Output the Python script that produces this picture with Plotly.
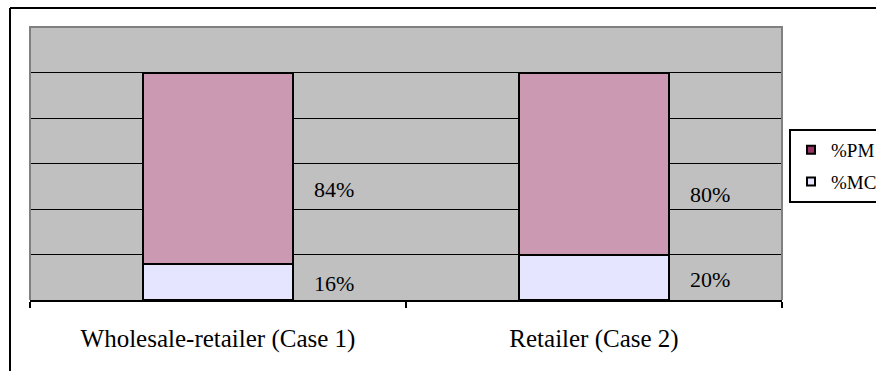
import plotly.graph_objects as go

categories = ["Wholesale-retailer (Case 1)", "Retailer (Case 2)"]
mc_values = [16, 20]
pm_values = [84, 80]
series_names = ["%PM", "%MC"]

pm_bar_color = "#CC99B3"
mc_bar_color = "#E5E5FF"
pm_legend_color = "#993366"
mc_legend_color = "#E5E5FF"
serif = "'Liberation Serif', 'Times New Roman', Times, serif"

xs = list(range(len(categories)))

fig = go.Figure()
fig.add_trace(go.Bar(x=xs, y=mc_values, width=0.4, marker=dict(color=mc_bar_color, line=dict(color="black", width=2)),
                     showlegend=False, name=series_names[1]))
fig.add_trace(go.Bar(x=xs, y=pm_values, width=0.4, marker=dict(color=pm_bar_color, line=dict(color="black", width=2)),
                     showlegend=False, name=series_names[0]))
# legend entries
fig.add_trace(go.Scatter(x=[None], y=[None], mode="markers", name=series_names[0], legendgroup="a",
                         marker=dict(symbol="square", size=8, color=pm_legend_color, line=dict(color="black", width=2))))
fig.add_trace(go.Scatter(x=[None], y=[None], mode="markers", name=series_names[1], legendgroup="b",
                         marker=dict(symbol="square", size=8, color=mc_legend_color, line=dict(color="black", width=2))))

annotations = []
for i, (mc, pm) in enumerate(zip(mc_values, pm_values)):
    annotations.append(dict(x=i, y=pm / 2, text=f"{pm}%", xref="x", yref="y", showarrow=False,
                            xshift=116, yshift=15, font=dict(family=serif, size=22, color="black")))
    annotations.append(dict(x=i, y=mc / 2, text=f"{mc}%", xref="x", yref="y", showarrow=False,
                            xshift=116, yshift=-2, font=dict(family=serif, size=22, color="black")))

x_left = (10 - 30) / 752
y_top = (300 - 8) / 273
shapes = [
    dict(type="path", xref="paper", yref="paper", path="M 0,0 L 0,1 L 1,1 L 1,0",
         line=dict(color="#808080", width=2), layer="above"),
    dict(type="line", xref="paper", yref="paper", x0=x_left, x1=x_left, y0=y_top, y1=-0.4,
         line=dict(color="black", width=2)),
    dict(type="line", xref="paper", yref="paper", x0=x_left, x1=1.3, y0=y_top, y1=y_top,
         line=dict(color="black", width=2)),
]

fig.update_layout(
    width=876, height=371,
    margin=dict(l=30, r=94, t=27, b=71, autoexpand=False),
    barmode="stack",
    paper_bgcolor="white",
    plot_bgcolor="#C0C0C0",
    font=dict(family=serif, color="black"),
    showlegend=True,
    legend=dict(x=(789 - 30) / 752, y=(300 - 129) / 273, xanchor="left", yanchor="top",
                bordercolor="black", borderwidth=2, bgcolor="white",
                font=dict(family=serif, size=19, color="black"),
                traceorder="grouped", tracegroupgap=4, itemwidth=30),
    xaxis=dict(range=[-0.5, len(categories) - 0.5], tickvals=xs, ticktext=categories,
               ticks="", showline=True, linecolor="black", linewidth=2, showgrid=False, zeroline=False,
               tickfont=dict(family=serif, size=25, color="black"), ticklabelstandoff=15,
               minor=dict(tickvals=[-0.5, 0.5, 1.5], ticks="outside", ticklen=6, tickwidth=2, tickcolor="black",
                          showgrid=False)),
    yaxis=dict(range=[0, 120], tickvals=[20, 40, 60, 80, 100], showticklabels=False, ticks="",
               showgrid=True, gridcolor="black", gridwidth=1, zeroline=False, showline=False),
    annotations=annotations,
    shapes=shapes,
)

fig.write_html("out.html")
